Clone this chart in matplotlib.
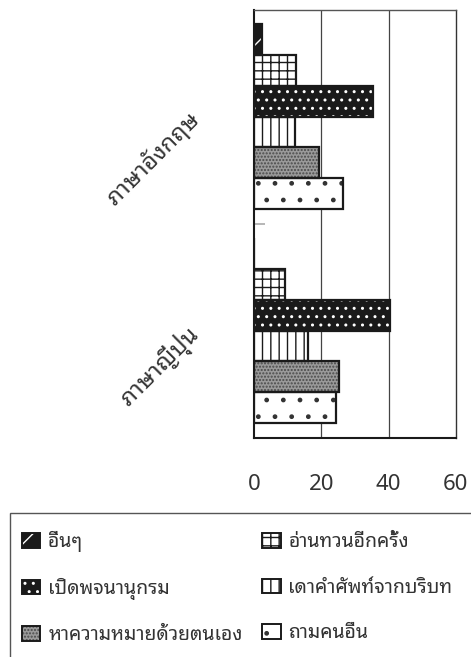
import matplotlib
matplotlib.use("Agg")
import matplotlib.pyplot as plt
import matplotlib.patches as mpatches
import numpy as np

plt.rcParams['font.family'] = ['Noto Sans Thai Looped', 'DejaVu Sans']
plt.rcParams['hatch.linewidth'] = 1.0

# data
categories = ['ภาษาอังกฤษ', 'ภาษาญี่ปุ่น']
series = ['อื่นๆ', 'อ่านทวนอีกครั้ง', 'เปิดพจนานุกรม',
          'เดาคำศัพท์จากบริบท', 'หาความหมายด้วยตนเอง', 'ถามคนอื่น']
values = [
    [2.2, 0.0],    # อื่นๆ
    [12.3, 9.2],   # อ่านทวนอีกครั้ง
    [35.5, 40.3],  # เปิดพจนานุกรม
    [12.0, 16.1],  # เดาคำศัพท์จากบริบท
    [19.3, 25.3],  # หาความหมายด้วยตนเอง
    [26.3, 24.3],  # ถามคนอื่น
]
xticks = [0, 20, 40, 60]

# style per series: face, hatch, hatch colour
styles = [
    ('#1a1a1a', '/', 'white'),
    ('white', '++', '#1a1a1a'),
    ('#1a1a1a', '..', 'white'),
    ('white', '||', '#1a1a1a'),
    ('#9a9a9a', '.....', '#4a4a4a'),
    ('white', '.', '#333333'),
]

fig = plt.figure(figsize=(4.71, 6.57), dpi=100)
ax = fig.add_axes([0.540, 0.3338, 0.4275, 0.6517])

ypos = np.array([1, 0])  # english on top
h = 0.864 / len(series)
for i, s in enumerate(series):
    y = ypos + (2.5 - i) * h
    face, hatch, hc = styles[i]
    ax.barh(y, values[i], height=h, color=face, hatch=hatch, edgecolor=hc, linewidth=0, zorder=2)
    ax.barh(y, values[i], height=h, fill=False, edgecolor='#1a1a1a', linewidth=1.6, zorder=3)

ax.set_xlim(0, 60)
ax.set_ylim(-0.5, 1.5)
ax.set_xticks(xticks)
ax.set_xticklabels([str(t) for t in xticks], fontsize=16, color='#333333', fontweight='light')
ax.tick_params(axis='x', length=0, pad=26)
for t in xticks[1:3]:
    ax.axvline(t, color='#444444', linewidth=0.9, zorder=1)

ax.set_yticks(ypos)
ax.set_yticklabels(categories, rotation=45, ha='right', va='center',
                   rotation_mode='anchor', fontsize=17, color='#333333', fontweight='light')
ax.tick_params(axis='y', which='major', length=0, pad=42)
ax.set_yticks([0.5], minor=True)
ax.tick_params(axis='y', which='minor', direction='in', length=8, color='#aaaaaa', width=1.2)

for sp in ['left', 'bottom']:
    ax.spines[sp].set_color('#1a1a1a')
    ax.spines[sp].set_linewidth(1.5)
ax.spines['right'].set_color('#333333')
ax.spines['top'].set_color('#555555')
ax.spines['right'].set_linewidth(1.0)
ax.spines['top'].set_linewidth(1.0)

# legend: each handle = hatched fill + black outline
handles = []
for i, s in enumerate(series):
    face, hatch, hc = styles[i]
    fill = mpatches.Patch(facecolor=face, hatch=hatch, edgecolor=hc, linewidth=0)
    edge = mpatches.Patch(fill=False, edgecolor='#1a1a1a', linewidth=1.4)
    handles.append((fill, edge))
order = [0, 2, 4, 1, 3, 5]
leg = fig.legend([handles[k] for k in order], [series[k] for k in order], ncol=2,
                 loc='upper left', bbox_to_anchor=(22 / 471, 1 - 531 / 657),
                 frameon=False, fontsize=14, handlelength=0.95,
                 handleheight=0.8, handletextpad=0.4, labelspacing=1.32,
                 columnspacing=1.0, borderpad=0, borderaxespad=0)
for t in leg.get_texts():
    t.set_color('#333333')
    t.set_fontweight('light')

# legend box (runs off the right and bottom edge)
fig.patches.append(mpatches.Rectangle((10 / 471, -0.05), 1.0, 1 - 513 / 657 + 0.05,
                                      transform=fig.transFigure, fill=False,
                                      edgecolor='#555555', linewidth=1.0))

fig.savefig('out.png', dpi=100)
